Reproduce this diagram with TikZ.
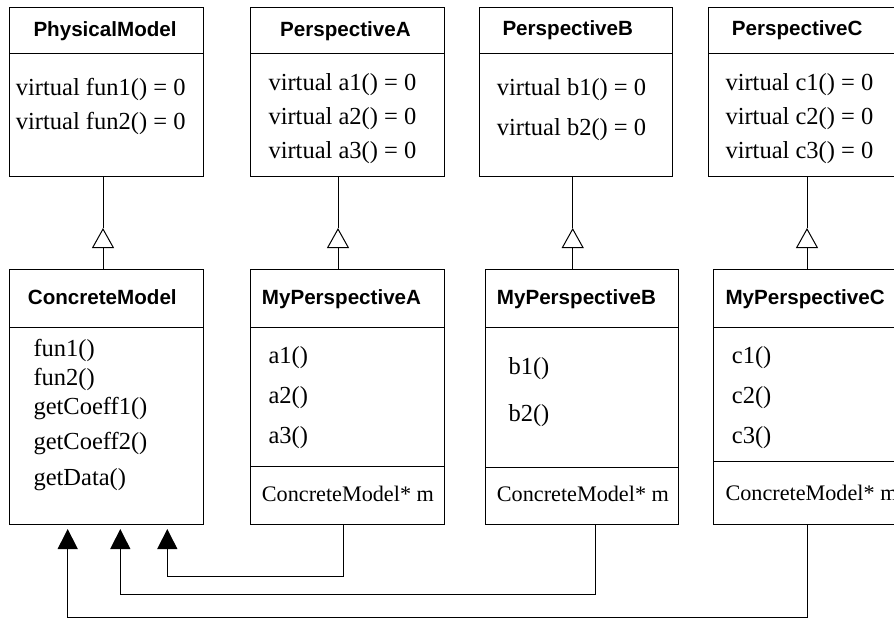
\documentclass[tikz,border=0pt]{standalone}
\usepackage{fontspec}
\setmainfont{Liberation Serif}
\newfontfamily\hdfont{Liberation Sans}
\usetikzlibrary{arrows.meta}
\begin{document}
\begin{tikzpicture}[x=1pt,y=-1pt,
  ln/.style={line width=1pt},
  box/.style={draw, line width=1pt, rectangle, inner sep=0pt, outer sep=0pt, minimum width=194pt},
  topbox/.style={box, minimum height=169pt},
  botbox/.style={box, minimum height=255pt},
  hd/.style={font=\hdfont\bfseries\fontsize{20.6}{24}\selectfont, anchor=base west, inner sep=0pt},
  bd/.style={font=\fontsize{24.5}{28}\selectfont, anchor=base west, inner sep=0pt},
  sm/.style={font=\fontsize{22.2}{26}\selectfont, anchor=base west, inner sep=0pt},
  gen/.style={ln, -{Triangle[open, width=22pt, length=20pt]}},
  assoc/.style={ln, -{Triangle[width=20pt, length=20pt]}}
]
\useasboundingbox (0,0) rectangle (894,619);
\clip (0,0) rectangle (894,619);

% top row
\node[topbox] (pm) at (106,91.5) {};
\node[topbox] (pa) at (347,91.5) {};
\node[topbox, minimum width=193pt] (pb) at (575.5,91.5) {};
\node[topbox, minimum width=193pt] (pc) at (804.5,91.5) {};
\foreach \n in {pm,pa,pb,pc} \draw[ln] (\n.west |- 0,53) -- (\n.east |- 0,53);

% bottom row
\node[botbox] (cm) at (106,396.5) {};
\node[botbox] (mpa) at (347,396.5) {};
\node[botbox, minimum width=193pt] (mpb) at (581.5,396.5) {};
\node[botbox, minimum width=193pt] (mpc) at (809.5,396.5) {};
\foreach \n in {cm,mpa,mpb,mpc} \draw[ln] (\n.west |- 0,327) -- (\n.east |- 0,327);
\draw[ln] (mpa.west |- 0,466) -- (mpa.east |- 0,466);
\draw[ln] (mpb.west |- 0,467) -- (mpb.east |- 0,467);
\draw[ln] (mpc.west |- 0,461) -- (mpc.east |- 0,461);

% headers
\node[hd] (tpm) at (33.3,36) {PhysicalModel};
\node[hd] (tpa) at (280,36) {PerspectiveA};
\node[hd] (tpb) at (502.3,35) {PerspectiveB};
\node[hd] (tpc) at (731.7,35) {PerspectiveC};
\node[hd] (tcm) at (27.7,304) {ConcreteModel};
\node[hd] (tmpa) at (261.7,304) {MyPerspectiveA};
\node[hd] (tmpb) at (496.7,304) {MyPerspectiveB};
\node[hd] (tmpc) at (725.3,304) {MyPerspectiveC};

% top bodies
\node[bd] (pm1) at (15.7,95) {virtual fun1() = 0};
\node[bd] (pm2) at (15.7,129) {virtual fun2() = 0};
\node[bd] (pa1) at (268.3,90) {virtual a1() = 0};
\node[bd] (pa2) at (268.3,124) {virtual a2() = 0};
\node[bd] (pa3) at (268.3,158) {virtual a3() = 0};
\node[bd] (pb1) at (496.7,95) {virtual b1() = 0};
\node[bd] (pb2) at (496.7,135) {virtual b2() = 0};
\node[bd] (pc1) at (725.3,90) {virtual c1() = 0};
\node[bd] (pc2) at (725.3,124) {virtual c2() = 0};
\node[bd] (pc3) at (725.3,158) {virtual c3() = 0};

% bottom bodies
\node[bd] (cm1) at (33.3,356) {fun1()};
\node[bd] (cm2) at (33.3,385) {fun2()};
\node[bd] (cm3) at (33.3,414) {getCoeff1()};
\node[bd] (cm4) at (33.3,449) {getCoeff2()};
\node[bd] (cm5) at (33.3,485) {getData()};
\node[bd] (ma1) at (268.3,363) {a1()};
\node[bd] (ma2) at (268.3,403) {a2()};
\node[bd] (ma3) at (268.3,443) {a3()};
\node[sm] (mam) at (261.7,501) {ConcreteModel* m};
\node[bd] (mb1) at (508.3,374) {b1()};
\node[bd] (mb2) at (508.3,421) {b2()};
\node[sm] (mbm) at (496.7,501) {ConcreteModel* m};
\node[bd] (mc1) at (731.7,363) {c1()};
\node[bd] (mc2) at (731.7,403) {c2()};
\node[bd] (mc3) at (731.7,443) {c3()};
\node[sm] (mcm) at (725.3,500) {ConcreteModel* m};

% generalisation
\coordinate (gpm) at (103,228);
\coordinate (gpa) at (338,228);
\coordinate (gpb) at (572.7,228);
\coordinate (gpc) at (807,228);
\draw[gen] (cm.north -| gpm) -- (gpm);
\draw[ln] (pm.south -| gpm) -- (gpm);
\draw[gen] (mpa.north -| gpa) -- (gpa);
\draw[ln] (pa.south -| gpa) -- (gpa);
\draw[gen] (mpb.north -| gpb) -- (gpb);
\draw[ln] (pb.south -| gpb) -- (gpb);
\draw[gen] (mpc.north -| gpc) -- (gpc);
\draw[ln] (pc.south -| gpc) -- (gpc);

% associations
\coordinate (h1) at (167.3,529);
\coordinate (h2) at (120.3,529);
\coordinate (h3) at (67.7,529);
\draw[assoc] (mpa.south -| 343.7,0) |- (h1 |- 0,576.7) -- (h1);
\draw[assoc] (mpb.south -| 595.7,0) |- (h2 |- 0,594.3) -- (h2);
\draw[assoc] (mpc.south -| 807,0) |- (h3 |- 0,617.3) -- (h3);
\end{tikzpicture}
\end{document}
